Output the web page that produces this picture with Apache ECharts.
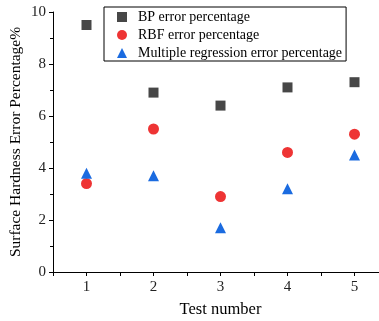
<!DOCTYPE html>
<html><head><meta charset="utf-8">
<script src="https://cdn.jsdelivr.net/npm/echarts@6/dist/echarts.min.js"></script>
<style>html,body{margin:0;padding:0;background:#fff}#c{width:379px;height:321px}</style>
</head><body><div id="c"></div>
<script>
var testNumbers = [1, 2, 3, 4, 5];
var bpError = [9.5, 6.9, 6.4, 7.1, 7.3];
var rbfError = [3.4, 5.5, 2.9, 4.6, 5.3];
var mrError = [3.8, 3.7, 1.7, 3.2, 4.5];
var yTicks = [0, 2, 4, 6, 8, 10];
var seriesNames = ['BP error percentage', 'RBF error percentage', 'Multiple regression error percentage'];

function pairs(vals){ return testNumbers.map(function(x,i){ return [x, vals[i]]; }); }
var font = 'Liberation Serif';
var chart = echarts.init(document.getElementById('c'), null, {renderer:'canvas'});
chart.setOption({
  animation:false,
  grid:{left:53, top:12, width:335, height:260, containLabel:false, outerBoundsMode:'none'},
  legend:{
    orient:'vertical', left:104, top:7,
    padding:[3,4,1,13], itemGap:4,
    borderColor:'#000', borderWidth:1,
    itemWidth:10, itemHeight:10,
    textStyle:{fontFamily:font, fontSize:14, color:'#000', padding:[0,0,0,6], lineHeight:13},
    data:[{name:seriesNames[0], icon:'rect'},{name:seriesNames[1], icon:'circle'},{name:seriesNames[2], icon:'triangle'}]
  },
  xAxis:{
    type:'value', min:0.5, max:5.5, interval:0.5,
    name:'Test number', nameLocation:'middle', nameGap:29, nameMoveOverlap:false,
    nameTextStyle:{fontFamily:font, fontSize:16.5, color:'#000'},
    axisLine:{lineStyle:{color:'#000', width:1}},
    axisTick:{inside:false, length:4, lineStyle:{color:'#000'}},
    axisLabel:{fontFamily:font, fontSize:15, color:'#222', margin:8,
      formatter:function(v){ return testNumbers.indexOf(v) >= 0 ? String(v) : ''; }},
    splitLine:{show:false}
  },
  yAxis:{
    type:'value', min:yTicks[0], max:yTicks[yTicks.length-1], interval:2,
    name:'Surface Hardness Error Percentage%', nameLocation:'middle', nameGap:29, nameMoveOverlap:false,
    nameTextStyle:{fontFamily:font, fontSize:15.5, color:'#000'},
    axisLine:{show:true, lineStyle:{color:'#000', width:1}},
    axisTick:{show:true, inside:false, length:4, lineStyle:{color:'#000'}},
    minorTick:{show:true, splitNumber:2, length:3, lineStyle:{color:'#000'}},
    axisLabel:{fontFamily:font, fontSize:15, color:'#222', margin:7},
    splitLine:{show:false}
  },
  series:[
    {name:seriesNames[0], type:'scatter', symbol:'rect', symbolSize:10, itemStyle:{color:'#474747', opacity:1}, data:pairs(bpError)},
    {name:seriesNames[1], type:'scatter', symbol:'circle', symbolSize:11, itemStyle:{color:'#ee3434', opacity:1}, data:pairs(rbfError)},
    {name:seriesNames[2], type:'scatter', symbol:'triangle', symbolSize:11, itemStyle:{color:'#1b6be0', opacity:1}, data:pairs(mrError)}
  ]
});
</script></body></html>
